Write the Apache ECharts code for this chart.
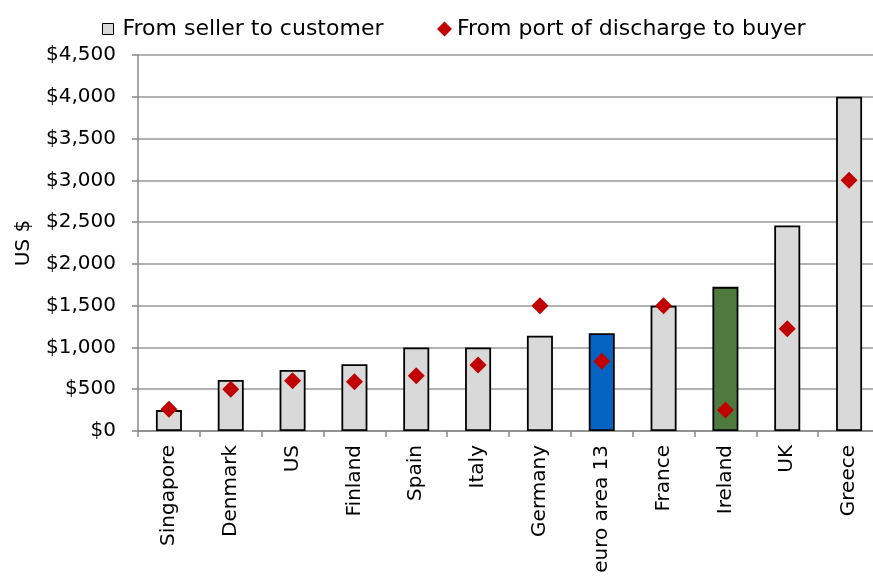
<!DOCTYPE html>
<html>
<head>
<meta charset="utf-8">
<script src="https://cdn.jsdelivr.net/npm/echarts@6/dist/echarts.min.js"></script>
<style>html,body{margin:0;padding:0;background:#fff}#c{width:873px;height:586px}</style>
</head>
<body>
<div id="c"></div>
<script>
const categories = ["Singapore","Denmark","US","Finland","Spain","Italy","Germany","euro area 13","France","Ireland","UK","Greece"];
const sellerToCustomer = [250, 610, 730, 800, 1000, 1000, 1140, 1170, 1500, 1725, 2460, 4000];
const portToBuyer = [260, 500, 600, 590, 660, 790, 1500, 835, 1500, 250, 1225, 3000];
const yTicks = [0, 500, 1000, 1500, 2000, 2500, 3000, 3500, 4000, 4500];
const seriesNames = ["From seller to customer", "From port of discharge to buyer"];
const highlightColors = {"euro area 13": "#0563c1", "Ireland": "#4e7a3e"};

const FONT = "DejaVu Sans";
const chart = echarts.init(document.getElementById('c'), null, {renderer: 'canvas'});
chart.setOption({
  animation: false,
  backgroundColor: '#fff',
  legend: [
    {
      data: [{name: seriesNames[0], icon: 'rect'}],
      left: 102, top: 18, padding: 0, itemWidth: 11, itemHeight: 11,
      textStyle: {fontFamily: FONT, fontSize: 22, color: '#000', padding: [0,0,0,4]},
      itemStyle: {borderColor: '#000', borderWidth: 1}
    },
    {
      data: [{name: seriesNames[1], icon: 'diamond'}],
      left: 437, top: 18, padding: 0, itemWidth: 15, itemHeight: 15,
      textStyle: {fontFamily: FONT, fontSize: 22, color: '#000'}
    }
  ],
  grid: {left: 138, width: 742, top: 55, bottom: 155, containLabel: false, outerBoundsMode: 'none'},
  xAxis: {
    type: 'category',
    data: categories,
    axisLine: {lineStyle: {color: '#888', width: 1.5}},
    axisTick: {show: true, length: 6, alignWithLabel: false, lineStyle: {color: '#888', width: 1.5}},
    axisLabel: {rotate: 90, margin: 14, fontFamily: FONT, fontSize: 20, color: '#000', interval: 0}
  },
  yAxis: {
    type: 'value',
    min: yTicks[0], max: yTicks[yTicks.length - 1], interval: 500,
    name: 'US $', nameLocation: 'middle', nameGap: 104, nameRotate: 90,
    nameTextStyle: {fontFamily: FONT, fontSize: 20, color: '#000'},
    axisLine: {show: true, lineStyle: {color: '#888', width: 1.5}},
    axisTick: {show: true, length: 6, lineStyle: {color: '#888', width: 1.5}},
    splitLine: {show: true, lineStyle: {color: '#999', width: 1.5}},
    axisLabel: {
      margin: 22, fontFamily: FONT, fontSize: 20, color: '#000',
      formatter: v => '$' + v.toLocaleString('en-US')
    }
  },
  series: [
    {
      name: seriesNames[0],
      type: 'bar',
      barWidth: 26,
      itemStyle: {color: '#d9d9d9', borderColor: '#000', borderWidth: 1.8},
      data: sellerToCustomer.map((v, i) => highlightColors[categories[i]]
        ? {value: v, itemStyle: {color: highlightColors[categories[i]]}}
        : v)
    },
    {
      name: seriesNames[1],
      type: 'scatter',
      symbol: 'diamond',
      symbolSize: 17,
      itemStyle: {color: '#c00000', opacity: 1},
      data: portToBuyer,
      z: 5
    }
  ]
});
</script>
</body>
</html>
